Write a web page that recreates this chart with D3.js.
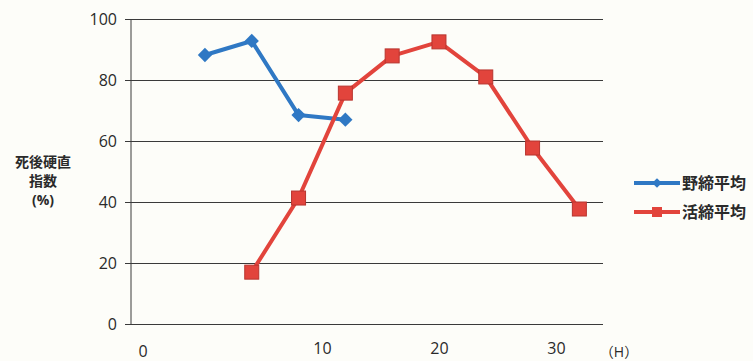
<!DOCTYPE html>
<html>
<head>
<meta charset="utf-8">
<script src="https://cdn.jsdelivr.net/npm/d3@7"></script>
<style>
  body { margin: 0; background: #fdfdf9; }
  text { font-family: "Open Sans", "Noto Sans CJK JP", sans-serif; fill: #2a2a2a; }
</style>
</head>
<body>
<script>
// hours after death
var hoursNoJime = [0, 4, 8, 12];
var valuesNoJime = [88.2, 92.8, 68.5, 67.0];
var hoursIkeJime = [4, 8, 12, 16, 20, 24, 28, 32];
var valuesIkeJime = [17, 41.3, 75.7, 87.9, 92.5, 81, 57.7, 37.7];
var yTicks = [0, 20, 40, 60, 80, 100];
var xTicks = [10, 20, 30];
var seriesNames = ["野締平均", "活締平均"];

var width = 753, height = 361;
var plotLeft = 131, plotRight = 603, plotTop = 19, plotBottom = 324;

var svg = d3.select("body").append("svg")
    .attr("width", width)
    .attr("height", height);

var x = d3.scaleLinear().domain([-6.32, 34.02]).range([plotLeft, plotRight]);
var y = d3.scaleLinear().domain([0, 100]).range([plotBottom, plotTop]);

// gridlines + y labels
var yAxis = d3.axisLeft(y).tickValues(yTicks).tickSize(-(plotRight - plotLeft)).tickPadding(14);
var gy = svg.append("g").attr("transform", "translate(" + plotLeft + ",0)").call(yAxis);
gy.select(".domain").remove();
gy.selectAll(".tick line").attr("stroke", "#3a3a3a").attr("x1", -6);
gy.selectAll(".tick text").style("font-size", "16px").attr("fill", "#2a2a2a");

// vertical axis line
svg.append("line")
    .attr("x1", plotLeft).attr("x2", plotLeft)
    .attr("y1", y(100)).attr("y2", y(0))
    .attr("stroke", "#3a3a3a");

// x labels
var xAxis = d3.axisBottom(x).tickValues(xTicks).tickSize(0).tickPadding(19);
var gx = svg.append("g").attr("transform", "translate(0," + plotBottom + ")").call(xAxis);
gx.select(".domain").remove();
gx.selectAll(".tick text").style("font-size", "16px").attr("fill", "#2a2a2a");
svg.append("text").attr("x", plotLeft + 12).attr("y", plotBottom + 33)
    .attr("text-anchor", "middle").style("font-size", "16px").text("0");
svg.append("text").attr("x", plotRight + 16).attr("y", plotBottom + 33)
    .attr("text-anchor", "middle").style("font-size", "14px").text("（H）");

// y title
var yTitle = svg.append("text").attr("text-anchor", "middle")
    .style("font-size", "14px").style("font-weight", "bold");
yTitle.append("tspan").attr("x", 43).attr("y", 167).text("死後硬直");
yTitle.append("tspan").attr("x", 43).attr("y", 186).text("指数");
yTitle.append("tspan").attr("x", 43).attr("y", 205).text("(%)");

var line = d3.line().x(function(d) { return x(d[0]); }).y(function(d) { return y(d[1]); });

var blue = "#2f78c4", red = "#e2443c";
var noData = d3.zip(hoursNoJime, valuesNoJime);
var ikeData = d3.zip(hoursIkeJime, valuesIkeJime);

svg.append("path").datum(noData).attr("d", line)
    .attr("fill", "none").attr("stroke", blue).attr("stroke-width", 4).attr("stroke-linejoin", "round");
svg.append("path").datum(ikeData).attr("d", line)
    .attr("fill", "none").attr("stroke", red).attr("stroke-width", 4).attr("stroke-linejoin", "round");

var diamond = d3.symbol().type(d3.symbolDiamond2).size(130);
svg.selectAll(".dia").data(noData).enter().append("path")
    .attr("transform", function(d) { return "translate(" + x(d[0]) + "," + y(d[1]) + ")"; })
    .attr("d", diamond).attr("fill", blue);

svg.selectAll(".sq").data(ikeData).enter().append("rect")
    .attr("x", function(d) { return x(d[0]) - 7; })
    .attr("y", function(d) { return y(d[1]) - 7; })
    .attr("width", 14).attr("height", 14)
    .attr("fill", red).attr("stroke", "#b8352f").attr("stroke-width", 1);

// legend
var legend = svg.append("g");
[blue, red].forEach(function(c, i) {
  var ly = 183 + i * 29;
  legend.append("line").attr("x1", 634).attr("x2", 680).attr("y1", ly).attr("y2", ly)
      .attr("stroke", c).attr("stroke-width", 4);
  if (i === 0) {
    legend.append("path").attr("transform", "translate(657," + ly + ")")
        .attr("d", d3.symbol().type(d3.symbolDiamond2).size(60)).attr("fill", c);
  } else {
    legend.append("rect").attr("x", 652).attr("y", ly - 5).attr("width", 10).attr("height", 10)
        .attr("fill", c);
  }
  legend.append("text").attr("x", 682).attr("y", ly + 6)
      .style("font-size", "16px").style("font-weight", "bold").text(seriesNames[i]);
});
</script>
</body>
</html>
